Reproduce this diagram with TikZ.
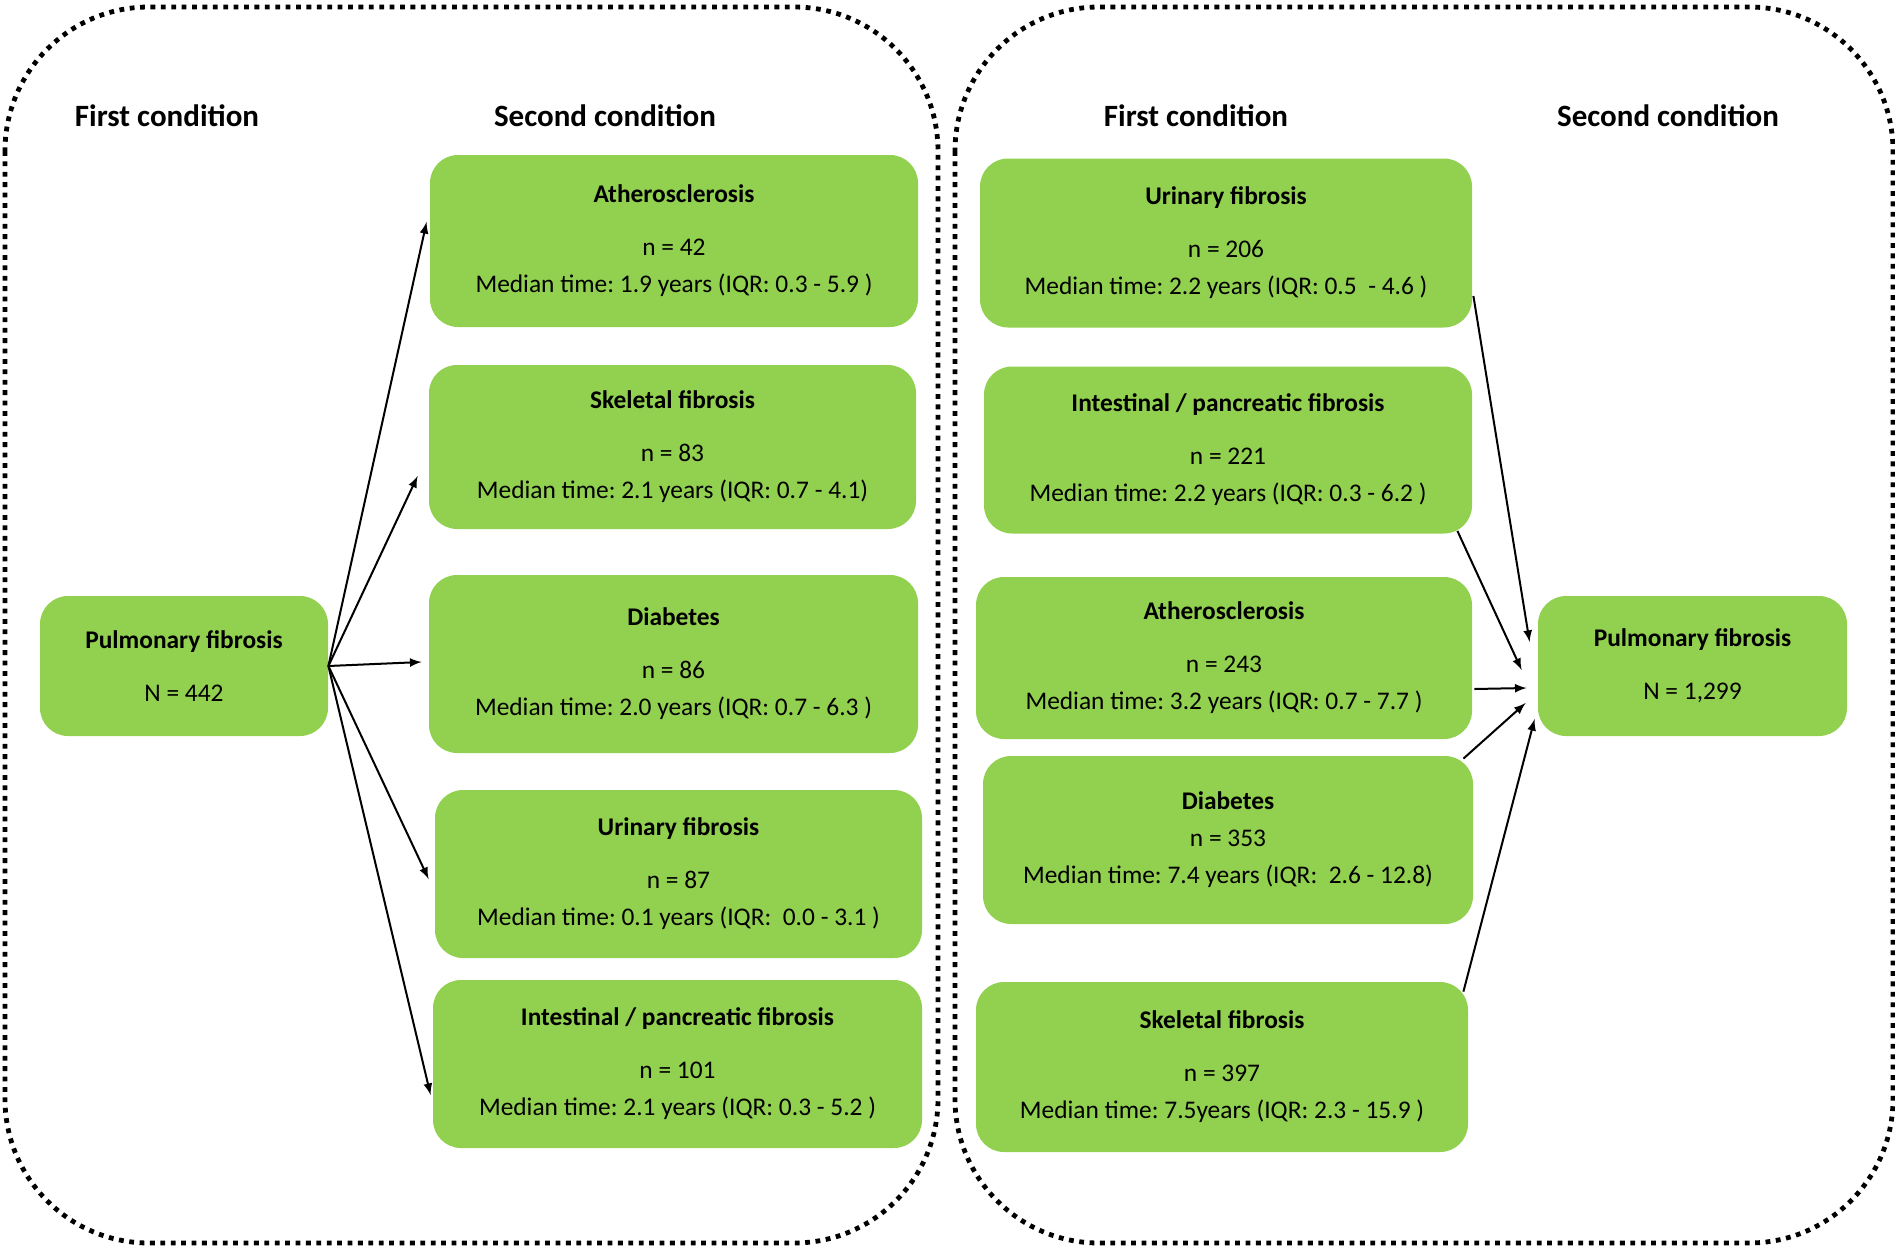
\documentclass[tikz,border=0pt]{standalone}
\usepackage{fontspec}
\setmainfont{Carlito}
\frenchspacing
\definecolor{boxgreen}{RGB}{146,208,80}
\begin{document}
\begin{tikzpicture}[>=latex,x=0.5pt,y=-0.5pt,
    box/.style={fill=boxgreen,rounded corners=14pt,align=center,inner sep=0pt,
      font=\fontsize{12.7}{18.5}\selectfont},
    frame/.style={line width=2.4pt,dash pattern=on 2.4pt off 2.8pt,rounded corners=72pt},
    head/.style={font=\fontsize{15.5}{18}\selectfont\bfseries},
    link/.style={->,line width=1pt}]
  \useasboundingbox (0,0) rectangle (1895,1247);
  % the two dotted frames
  \draw[frame] (5,7) rectangle (938,1243);
  \draw[frame] (955,7) rectangle (1893,1243);
  % column heads
  \node[head] (lfirst) at (167,116) {First condition};
  \node[head] (lsecond) at (605,116) {Second condition};
  \node[head] (rfirst) at (1196,116) {First condition};
  \node[head] (rsecond) at (1668,116) {Second condition};
  % left: pulmonary fibrosis first
  \node[box,minimum width=144pt,minimum height=70pt] (lpf) at (184,666)
    {\textbf{Pulmonary fibrosis}\\[8pt] N = 442};
  \node[box,minimum width=244pt,minimum height=86pt] (lath) at (674,241)
    {\textbf{Atherosclerosis}\\[8pt] n = 42\\ Median time: 1.9 years (IQR: 0.3 - 5.9 )};
  \node[box,minimum width=243.5pt,minimum height=82pt] (lske) at (672.5,447)
    {\textbf{Skeletal fibrosis}\\[8pt] n = 83\\ Median time: 2.1 years (IQR: 0.7 - 4.1)};
  \node[box,minimum width=244.5pt,minimum height=89pt] (ldia) at (673.5,664)
    {\textbf{Diabetes}\\[8pt] n = 86\\ Median time: 2.0 years (IQR: 0.7 - 6.3 )};
  \node[box,minimum width=243.5pt,minimum height=84pt] (luri) at (678.5,874)
    {\textbf{Urinary fibrosis}\\[8pt] n = 87\\ Median time: 0.1 years (IQR: \ 0.0 - 3.1 )};
  \node[box,minimum width=244.5pt,minimum height=84pt] (lint) at (677.5,1064)
    {\textbf{Intestinal / pancreatic fibrosis}\\[8pt] n = 101\\ Median time: 2.1 years (IQR: 0.3 - 5.2 )};
  \draw[link] (lpf.east) -- ([shift={(-3,-19)}]lath.west);
  \draw[link] (lpf.east) -- ([shift={(-11,29)}]lske.west);
  \draw[link] (lpf.east) -- ([shift={(-7,-2)}]ldia.west);
  \draw[link] (lpf.east) -- ([shift={(-6,5)}]luri.west);
  \draw[link] (lpf.east) -- ([shift={(-2,31)}]lint.west);
  % right: pulmonary fibrosis second
  \node[box,minimum width=246pt,minimum height=84.5pt] (ruri) at (1226,243)
    {\textbf{Urinary fibrosis}\\[8pt] n = 206\\ Median time: 2.2 years (IQR: 0.5 \ - 4.6 )};
  \node[box,minimum width=244pt,minimum height=83.5pt] (rint) at (1228,450)
    {\textbf{Intestinal / pancreatic fibrosis}\\[8pt] n = 221\\ Median time: 2.2 years (IQR: 0.3 - 6.2 )};
  \node[box,minimum width=248pt,minimum height=81pt] (rath) at (1224,658)
    {\textbf{Atherosclerosis}\\[8pt] n = 243\\ Median time: 3.2 years (IQR: 0.7 - 7.7 )};
  \node[box,minimum width=245pt,minimum height=84pt] (rdia) at (1228,840)
    {\textbf{Diabetes}\\ n = 353\\ Median time: 7.4 years (IQR: \ 2.6 - 12.8)};
  \node[box,minimum width=246pt,minimum height=85pt] (rske) at (1222,1067)
    {\textbf{Skeletal fibrosis}\\[8pt] n = 397\\ Median time: 7.5years (IQR: 2.3 - 15.9 )};
  \node[box,minimum width=154.5pt,minimum height=70pt] (rpf) at (1692.5,666)
    {\textbf{Pulmonary fibrosis}\\[8pt] N = 1,299};
  \draw[link] ([shift={(1,53)}]ruri.east) -- ([shift={(-8,-24)}]rpf.west);
  \draw[link] ([shift={(-15,-3)}]rint.south east) -- ([shift={(-16,4)}]rpf.west);
  \draw[link] ([shift={(2,31)}]rath.east) -- ([shift={(-11,22)}]rpf.west);
  \draw[link] ([shift={(-10,3)}]rdia.north east) -- ([shift={(-12,37)}]rpf.west);
  \draw[link] ([shift={(-5,10)}]rske.north east) -- ([shift={(-3,53)}]rpf.west);
\end{tikzpicture}
\end{document}
